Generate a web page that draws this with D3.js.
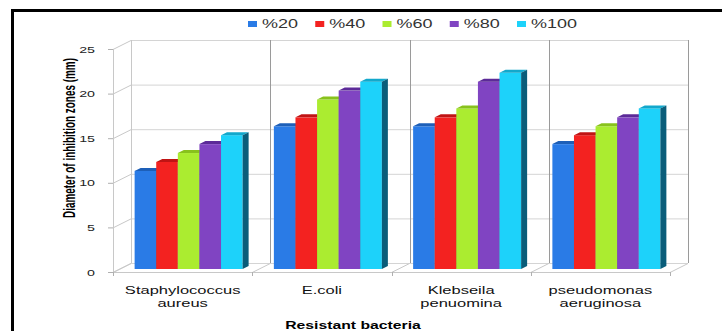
<!DOCTYPE html>
<html>
<head>
<meta charset="utf-8">
<script src="https://cdn.jsdelivr.net/npm/d3@7"></script>
<style>
  body { margin: 0; background: #fff; }
  svg { display: block; font-family: "Liberation Sans", Arial, sans-serif; }
</style>
</head>
<body>
<svg id="chart" width="722" height="331"></svg>
<script>
// data
var categories = ["Staphylococcus aureus", "E.coli", "Klebseila penuomina", "pseudomonas aeruginosa"];
var seriesNames = ["%20", "%40", "%60", "%80", "%100"];
var s20 = [11, 16, 16, 14];
var s40 = [12, 17, 17, 15];
var s60 = [13, 19, 18, 16];
var s80 = [14, 20, 21, 17];
var s100 = [15, 21, 22, 18];
var yTicks = [0, 5, 10, 15, 20, 25];
var yTitle = "Diameter of inhibition zones (mm)";
var xTitle = "Resistant bacteria";

var seriesValues = [s20, s40, s60, s80, s100];
var colors = ["#2a7be6", "#f32220", "#abec30", "#8044c2", "#1dd2fa"];
var topColors = ["#1d5fb8", "#c01414", "#88c21c", "#5c2a98", "#12a8cc"];
var sideColors = ["#164a90", "#901010", "#66951a", "#45206f", "#0a5d7a"];

var STRETCH = 1.5;  // picture text is wide
var DX = 18, DY = -9; // depth of the box

var svg = d3.select("#chart");

// frame
svg.append("path")
    .attr("d", "M12.5,331 L12.5,10.5 L722,10.5")
    .attr("fill", "none")
    .attr("stroke", "#000")
    .attr("stroke-width", 3);

var x = d3.scaleBand().domain(categories).range([113, 670]);
var y = d3.scaleLinear().domain([0, 25]).range([272, 49]);
var inner = d3.scaleBand().domain(seriesNames).range([0, 108]);
var pad = (x.bandwidth() - 108) / 2;

var grid = svg.append("g");
// back wall horizontal grid
grid.selectAll(".hg").data(yTicks).enter().append("line")
    .attr("x1", x.range()[0] + DX).attr("x2", x.range()[1] + DX)
    .attr("y1", function(d) { return y(d) + DY + 0.5; })
    .attr("y2", function(d) { return y(d) + DY + 0.5; })
    .attr("stroke", "#d4d4d4");
// side wall diagonals
grid.selectAll(".sg").data(yTicks).enter().append("line")
    .attr("x1", 113).attr("y1", function(d) { return y(d) + 0.5; })
    .attr("x2", 113 + DX).attr("y2", function(d) { return y(d) + DY + 0.5; })
    .attr("stroke", "#c8c8c8");
// y ticks
grid.selectAll(".yt").data(yTicks).enter().append("line")
    .attr("x1", 108).attr("x2", 113)
    .attr("y1", function(d) { return y(d) + 0.5; })
    .attr("y2", function(d) { return y(d) + 0.5; })
    .attr("stroke", "#b0b0b0");
// front axis line
grid.append("line")
    .attr("x1", 113.5).attr("x2", 113.5).attr("y1", y(0)).attr("y2", y(25))
    .attr("stroke", "#c8c8c8");

var bounds = categories.map(function(c) { return x(c); }).concat([x.range()[1]]);
// back wall verticals
grid.selectAll(".vg").data(bounds).enter().append("line")
    .attr("x1", function(d) { return Math.round(d + DX) + 0.5; })
    .attr("x2", function(d) { return Math.round(d + DX) + 0.5; })
    .attr("y1", y(0) + DY).attr("y2", y(25) + DY)
    .attr("stroke", function(d, i) { return i == 0 ? "#c8c8c8" : "#9a9a9a"; });
// floor
grid.append("line")
    .attr("x1", x.range()[0]).attr("x2", x.range()[1])
    .attr("y1", y(0) + 0.5).attr("y2", y(0) + 0.5)
    .attr("stroke", "#c8c8c8");
grid.selectAll(".fd").data(bounds).enter().append("line")
    .attr("x1", function(d) { return d; }).attr("y1", y(0) + 0.5)
    .attr("x2", function(d) { return d + DX; }).attr("y2", y(0) + DY + 0.5)
    .attr("stroke", "#c8c8c8");
grid.selectAll(".xt").data(bounds).enter().append("line")
    .attr("x1", function(d) { return Math.round(d) + 0.5; })
    .attr("x2", function(d) { return Math.round(d) + 0.5; })
    .attr("y1", y(0)).attr("y2", y(0) + 4)
    .attr("stroke", "#b0b0b0");

// bars: front face sits a third of the way into the box
var fx = DX / 3, fy = DY / 3, bdx = DX / 3, bdy = DY / 3;
var bars = [];
categories.forEach(function(c, ci) {
    seriesNames.forEach(function(s, si) {
        bars.push({ cat: c, s: s, si: si, v: seriesValues[si][ci] });
    });
});

var barG = svg.append("g");
var bar = barG.selectAll("g.bar").data(bars).enter().append("g");
function bx(d) { return x(d.cat) + pad + inner(d.s) + fx; }
var bw = inner.bandwidth();
bar.append("rect")
    .attr("x", bx)
    .attr("y", function(d) { return y(d.v) + fy; })
    .attr("width", bw)
    .attr("height", function(d) { return y(0) - y(d.v); })
    .attr("fill", function(d) { return colors[d.si]; });
bar.append("path")
    .attr("d", function(d) {
        var x0 = bx(d), yt = y(d.v) + fy;
        return "M" + x0 + "," + yt + "L" + (x0 + bw) + "," + yt +
            "L" + (x0 + bw + bdx) + "," + (yt + bdy) + "L" + (x0 + bdx) + "," + (yt + bdy) + "Z";
    })
    .attr("fill", function(d) { return topColors[d.si]; });
bar.append("path")
    .attr("d", function(d) {
        var x1 = bx(d) + bw, yt = y(d.v) + fy, yb = y(0) + fy;
        return "M" + x1 + "," + yt + "L" + (x1 + bdx) + "," + (yt + bdy) +
            "L" + (x1 + bdx) + "," + (yb + bdy) + "L" + x1 + "," + yb + "Z";
    })
    .attr("fill", function(d) { return sideColors[d.si]; });

// y tick labels
svg.selectAll(".yl").data(yTicks).enter().append("text")
    .attr("transform", function(d) { return "translate(95," + (y(d) + 3.5) + ") scale(" + STRETCH + ",1)"; })
    .attr("text-anchor", "end")
    .attr("font-size", 9.5)
    .attr("fill", "#222")
    .text(function(d) { return d; });

// category labels
var catLab = svg.selectAll(".cl").data(categories).enter().append("text")
    .attr("transform", function(d) { return "translate(" + (x(d) + x.bandwidth() / 2) + ",294) scale(" + STRETCH + ",1)"; })
    .attr("text-anchor", "middle")
    .attr("font-size", 11)
    .attr("fill", "#111");
catLab.selectAll("tspan").data(function(d) { return d.split(" "); }).enter().append("tspan")
    .attr("x", 0)
    .attr("dy", function(d, i) { return i == 0 ? 0 : 13; })
    .text(function(d) { return d; });

// axis titles
svg.append("text")
    .attr("transform", "translate(353,329) scale(" + STRETCH + ",1)")
    .attr("text-anchor", "middle")
    .attr("font-size", 10.5)
    .attr("font-weight", "bold")
    .attr("fill", "#000")
    .text(xTitle);
svg.append("text")
    .attr("transform", "translate(75,138) scale(" + STRETCH + ",1) rotate(-90)")
    .attr("text-anchor", "middle")
    .attr("font-size", 10.5)
    .attr("font-weight", "bold")
    .attr("textLength", 160)
    .attr("lengthAdjust", "spacingAndGlyphs")
    .attr("fill", "#000")
    .text(yTitle);

// legend
var leg = svg.selectAll(".lg").data(seriesNames).enter().append("g")
    .attr("transform", function(d, i) { return "translate(" + (248 + i * 67.25) + ",21)"; });
leg.append("rect").attr("width", 9).attr("height", 6)
    .attr("fill", function(d, i) { return colors[i]; });
leg.append("text")
    .attr("transform", "translate(14,6.5) scale(" + STRETCH + ",1)")
    .attr("font-size", 12)
    .attr("fill", "#333")
    .text(function(d) { return d; });
</script>
</body>
</html>
